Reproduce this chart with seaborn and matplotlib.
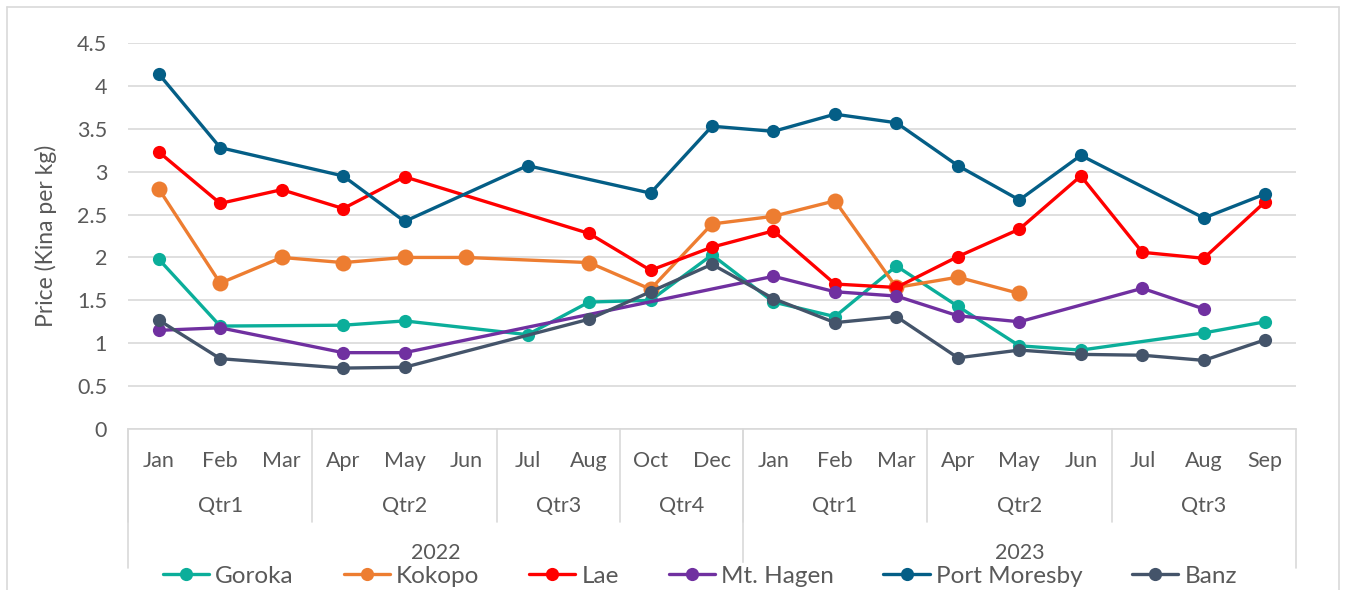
import numpy as np
import pandas as pd
import matplotlib
matplotlib.use("Agg")
import matplotlib.pyplot as plt
from matplotlib.lines import Line2D
import seaborn as sns

nan = np.nan

months = ["Jan", "Feb", "Mar", "Apr", "May", "Jun", "Jul", "Aug", "Oct", "Dec",
          "Jan", "Feb", "Mar", "Apr", "May", "Jun", "Jul", "Aug", "Sep"]
quarters = ["Qtr1", "Qtr2", "Qtr3", "Qtr4", "Qtr1", "Qtr2", "Qtr3"]
quarter_sizes = [3, 3, 2, 2, 3, 3, 3]
years = ["2022", "2023"]
year_sizes = [10, 9]

goroka = [1.98, 1.20, nan, 1.21, 1.26, nan, 1.10, 1.48, 1.50, 2.03,
          1.48, 1.31, 1.90, 1.43, 0.97, 0.92, nan, 1.12, 1.25]
kokopo = [2.80, 1.70, 2.00, 1.94, 2.00, 2.00, nan, 1.94, 1.63, 2.39,
          2.48, 2.66, 1.65, 1.77, 1.58, nan, nan, nan, nan]
lae = [3.23, 2.63, 2.79, 2.57, 2.94, nan, nan, 2.28, 1.85, 2.12,
       2.31, 1.69, 1.65, 2.01, 2.33, 2.95, 2.06, 1.99, 2.65]
mt_hagen = [1.15, 1.18, nan, 0.89, 0.89, nan, nan, nan, nan, nan,
            1.78, 1.60, 1.55, 1.32, 1.25, nan, 1.64, 1.40, nan]
port_moresby = [4.14, 3.28, nan, 2.95, 2.42, nan, 3.07, nan, 2.75, 3.53,
                3.47, 3.67, 3.57, 3.07, 2.67, 3.19, nan, 2.46, 2.74]
banz = [1.27, 0.82, nan, 0.71, 0.72, nan, nan, 1.28, 1.60, 1.92,
        1.52, 1.24, 1.31, 0.83, 0.92, 0.87, 0.86, 0.80, 1.04]

series = {
    "Goroka": goroka,
    "Kokopo": kokopo,
    "Lae": lae,
    "Mt. Hagen": mt_hagen,
    "Port Moresby": port_moresby,
    "Banz": banz,
}
colors = {
    "Goroka": "#0BAE9A",
    "Kokopo": "#ED7D31",
    "Lae": "#FF0000",
    "Mt. Hagen": "#7030A0",
    "Port Moresby": "#045E86",
    "Banz": "#44546A",
}
marker_sizes = {"Kokopo": 11.5}

sns.set_style("white")
plt.rcParams["font.family"] = ["Lato", "DejaVu Sans"]
text_color = "#595959"
grid_color = "#D9D9D9"

fig = plt.figure(figsize=(13.46, 5.9), dpi=100)
W, H = 1346, 590
ax = fig.add_axes([128 / W, 1 - 429 / H, (1296 - 128) / W, (429 - 43) / H])

rows = []
for name, vals in series.items():
    for i, v in enumerate(vals):
        rows.append({"pos": i, "price": v, "market": name})
df = pd.DataFrame(rows).dropna()

for name in series:
    sub = df[df["market"] == name]
    sns.lineplot(data=sub, x="pos", y="price", ax=ax, color=colors[name],
                 marker="o", markersize=marker_sizes.get(name, 9.5),
                 markeredgewidth=0, linewidth=2.4, label=name, legend=False)

ax.set_xlim(-0.5, len(months) - 0.5)
ax.set_ylim(0, 4.5)
ax.set_yticks(np.arange(0, 4.51, 0.5))
ax.set_yticklabels(["0", "0.5", "1", "1.5", "2", "2.5", "3", "3.5", "4", "4.5"],
                   fontsize=15.5, color=text_color)
ax.tick_params(axis="y", length=0, pad=15)
ax.set_xticks([])
ax.set_xlabel("")
ax.set_ylabel("Price (Kina per kg)", fontsize=16.5, color=text_color, labelpad=14)
ax.grid(axis="y", color=grid_color, linewidth=1.2)
ax.set_axisbelow(True)
for s in ["top", "right", "left"]:
    ax.spines[s].set_visible(False)
ax.spines["bottom"].set_color(grid_color)
ax.spines["bottom"].set_linewidth(1.2)

# multi-level category axis
trans = ax.get_xaxis_transform()
ax_h = 429 - 43
y_month = -32 / ax_h
y_qtr = -77 / ax_h
y_year = -124 / ax_h
y_qsep = -93 / ax_h
y_ysep = -139 / ax_h

for i, m in enumerate(months):
    ax.text(i, y_month, m, transform=trans, ha="center", va="center",
            fontsize=15.5, color=text_color)

start = 0
for q, n in zip(quarters, quarter_sizes):
    ax.text(start + (n - 1) / 2, y_qtr, q, transform=trans, ha="center",
            va="center", fontsize=15.5, color=text_color)
    ax.plot([start - 0.5, start - 0.5], [0, y_qsep], transform=trans,
            color=grid_color, lw=1.2, clip_on=False)
    start += n

start = 0
for yr, n in zip(years, year_sizes):
    ax.text(start + (n - 1) / 2, y_year, yr, transform=trans, ha="center",
            va="center", fontsize=15.5, color=text_color)
    ax.plot([start - 0.5, start - 0.5], [0, y_ysep], transform=trans,
            color=grid_color, lw=1.2, clip_on=False)
    start += n
ax.plot([start - 0.5, start - 0.5], [0, y_ysep], transform=trans,
        color=grid_color, lw=1.2, clip_on=False)

# chart border
for xs, ys in [([7 / W, 1339 / W], [1 - 7 / H, 1 - 7 / H]),
               ([7 / W, 7 / W], [0, 1 - 7 / H]),
               ([1339 / W, 1339 / W], [0, 1 - 7 / H])]:
    fig.add_artist(Line2D(xs, ys, color=grid_color, lw=1.2))

handles = [Line2D([], [], color=colors[n], marker="o", markersize=9.5,
                  markeredgewidth=0, linewidth=2.4) for n in series]
leg = fig.legend(handles, list(series.keys()), loc="center",
                 bbox_to_anchor=(0.52, 1 - 576 / H), ncol=6, frameon=True,
                 fontsize=17.5, handlelength=1.9, handletextpad=0.25,
                 columnspacing=2.05, borderpad=0.1)
leg.get_frame().set_facecolor("white")
leg.get_frame().set_edgecolor("white")
leg.get_frame().set_alpha(1)
for t in leg.get_texts():
    t.set_color(text_color)

fig.savefig("out.png", dpi=100)
